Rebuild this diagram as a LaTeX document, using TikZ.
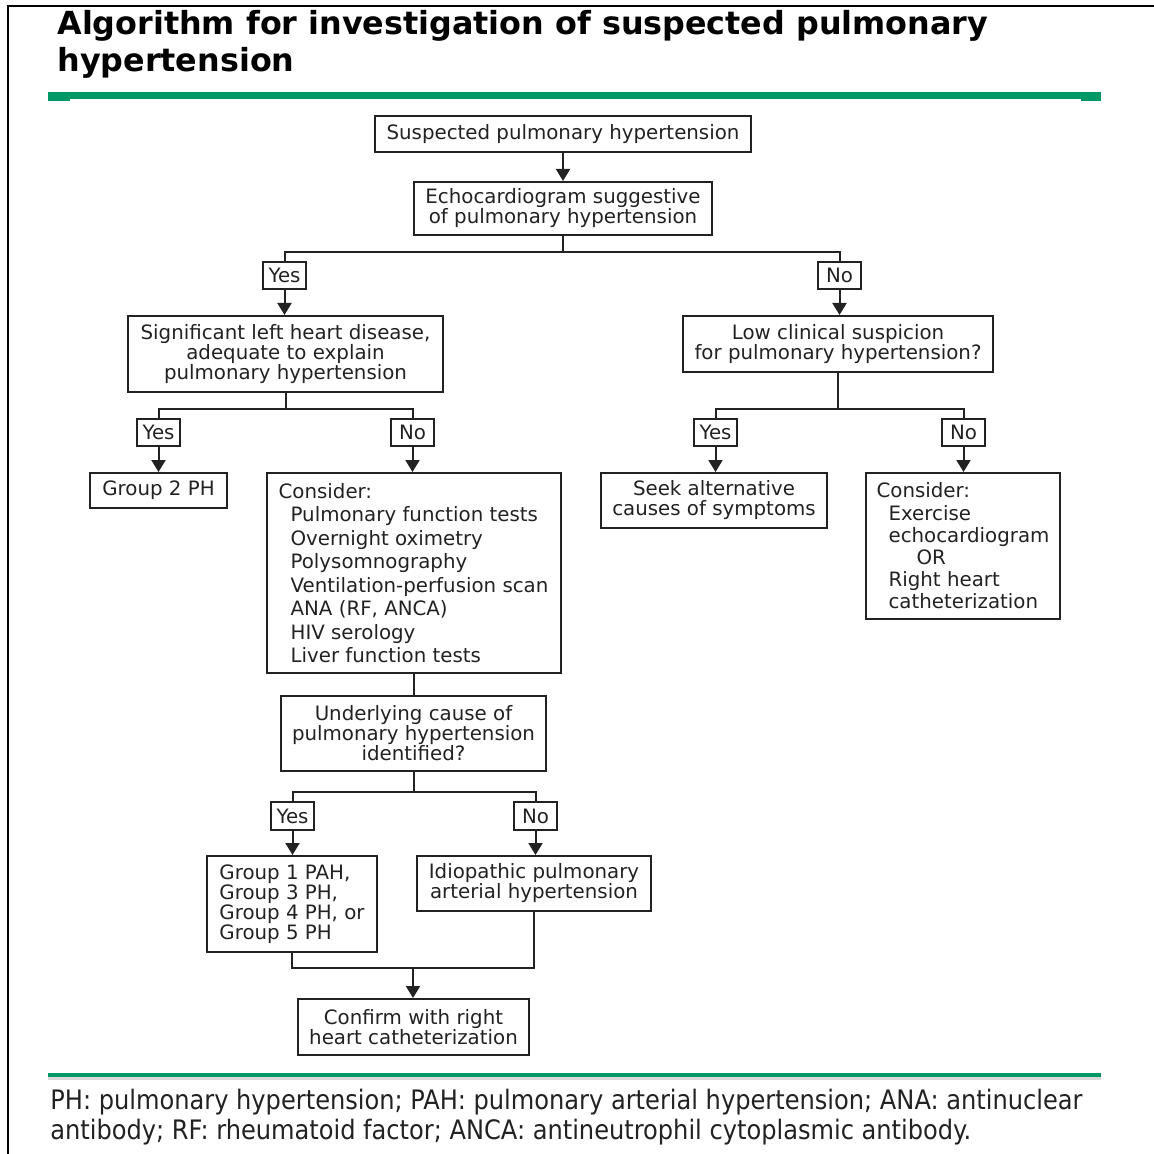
\documentclass[tikz,border=0pt]{standalone}
\usepackage{fontspec}
\setmainfont{DejaVu Sans}
\newfontfamily\notefont{DejaVu Sans Condensed}
\usetikzlibrary{arrows.meta, positioning}
\definecolor{rulegreen}{RGB}{0,152,100}
\definecolor{ink}{RGB}{34,34,34}

\begin{document}
\begin{tikzpicture}[x=0.5pt, y=-0.5pt,
  every node/.style={text=ink, font=\fontsize{9.9}{10}\selectfont},
  box/.style={draw=ink, line width=1pt, inner xsep=5.5pt, inner ysep=0pt, align=center},
  listbox/.style={box, align=left},
  tag/.style={box, inner xsep=0pt, minimum width=21.5pt, minimum height=13.5pt},
  con/.style={draw=ink, line width=1pt},
  arr/.style={con, -{Triangle[width=7pt,length=6pt]}}]
  \useasboundingbox (0,0) rectangle (1154,1154);

  % frame, title and rules
  \draw[line width=1pt] (8,1154) -- (8,6) -- (1154,6);
  \node (title) [anchor=west, align=left, text=black, inner sep=0pt,
    font=\fontsize{15.9}{18.5}\selectfont\bfseries] at (57,44)
    {Algorithm for investigation of suspected pulmonary\\hypertension};
  \fill[rulegreen] (48,92) rectangle (1101,99);
  \fill[rulegreen] (48,99) rectangle (70,101);
  \fill[rulegreen] (1081,99) rectangle (1101,101);
  \fill[black!15] (48,1077) rectangle (1101,1080);
  \fill[rulegreen] (48,1073) rectangle (1101,1077);

  % boxes
  \node (susp) [box, minimum width=188pt, minimum height=18pt] at (563,134)
    {Suspected pulmonary hypertension};
  \node (echo) [box, minimum width=148pt, minimum height=26.5pt] at (563,208.5)
    {Echocardiogram suggestive\\of pulmonary hypertension};
  \node (yesA) [tag] at (284.5,275.5) {Yes};
  \node (noA) [tag] at (839.5,275.5) {No};
  \node (lhd) [box, minimum width=157.5pt, minimum height=38pt] at (285.5,354)
    {Significant left heart disease,\\adequate to explain\\pulmonary hypertension};
  \node (low) [box, minimum width=155pt, minimum height=28pt] at (838,344)
    {Low clinical suspicion\\for pulmonary hypertension?};
  \node (yesB) [tag] at (158.5,432.5) {Yes};
  \node (noB) [tag] at (412.5,432.5) {No};
  \node (yesC) [tag] at (715.5,432.5) {Yes};
  \node (noC) [tag] at (963.5,432.5) {No};
  \node (grp2) [box, minimum width=68.5pt, minimum height=17.5pt] at (158.5,490.5)
    {Group 2 PH};
  \node (testsL) [listbox, minimum width=147pt, minimum height=100pt,
    font=\fontsize{9.9}{11.75}\selectfont] at (413.5,573)
    {Consider:\\
     \hspace*{6pt}Pulmonary function tests\\
     \hspace*{6pt}Overnight oximetry\\
     \hspace*{6pt}Polysomnography\\
     \hspace*{6pt}Ventilation-perfusion scan\\
     \hspace*{6pt}ANA (RF, ANCA)\\
     \hspace*{6pt}HIV serology\\
     \hspace*{6pt}Liver function tests};
  \node (seek) [box, minimum width=113pt, minimum height=27.5pt] at (714,500.5)
    {Seek alternative\\causes of symptoms};
  \node (testsR) [listbox, minimum width=96pt, minimum height=73pt,
    font=\fontsize{9.9}{11.1}\selectfont] at (963,546)
    {Consider:\\
     \hspace*{6pt}Exercise\\
     \hspace*{6pt}echocardiogram\\
     \hspace*{20pt}OR\\
     \hspace*{6pt}Right heart\\
     \hspace*{6pt}catheterization};
  \node (under) [box, minimum width=132pt, minimum height=37.5pt] at (413.5,733.5)
    {Underlying cause of\\pulmonary hypertension\\identified?};
  \node (yesD) [tag, minimum height=14pt] at (292.5,816) {Yes};
  \node (noD) [tag, minimum height=14pt] at (535.5,816) {No};
  \node (grp1) [listbox, minimum width=85pt, minimum height=48pt] at (292,904)
    {Group 1 PAH,\\Group 3 PH,\\Group 4 PH, or\\Group 5 PH};
  \node (idio) [box, minimum width=117pt, minimum height=27.5pt] at (534,883.5)
    {Idiopathic pulmonary\\arterial hypertension};
  \node (conf) [box, minimum width=114.5pt, minimum height=28pt] at (413.5,1027)
    {Confirm with right\\heart catheterization};
  \coordinate (merge) at (413,968);

  % connectors
  \draw[arr] (susp) -- (echo);
  \draw[con] (echo.south) -- ++(0,16) -| (yesA.north);
  \draw[con] (echo.south) -- ++(0,16) -| (noA.north);
  \draw[arr] (yesA.south) -- (yesA.south |- lhd.north);
  \draw[arr] (noA.south) -- (noA.south |- low.north);
  \draw[con] (lhd.south) -- ++(0,16) -| (yesB.north);
  \draw[con] (lhd.south) -- ++(0,16) -| (noB.north);
  \draw[con] (low.south) -- ++(0,36) -| (yesC.north);
  \draw[con] (low.south) -- ++(0,36) -| (noC.north);
  \draw[arr] (yesB.south) -- (yesB.south |- grp2.north);
  \draw[arr] (noB.south) -- (noB.south |- testsL.north);
  \draw[arr] (yesC.south) -- (yesC.south |- seek.north);
  \draw[arr] (noC.south) -- (noC.south |- testsR.north);
  \draw[con] (testsL) -- (under);
  \draw[con] (under.south) -- ++(0,20) -| (yesD.north);
  \draw[con] (under.south) -- ++(0,20) -| (noD.north);
  \draw[arr] (yesD.south) -- (yesD.south |- grp1.north);
  \draw[arr] (noD.south) -- (noD.south |- idio.north);
  \draw[con] (grp1.south) |- (merge);
  \draw[con] (idio.south) |- (merge);
  \draw[arr] (merge) -- (merge |- conf.north);

  % footnote
  \node (note) [anchor=west, align=left, inner sep=0pt,
    font=\notefont\fontsize{13.4}{15}\selectfont] at (50,1117)
    {PH: pulmonary hypertension; PAH: pulmonary arterial hypertension; ANA: antinuclear\\
     antibody; RF: rheumatoid factor; ANCA: antineutrophil cytoplasmic antibody.};
\end{tikzpicture}
\end{document}
